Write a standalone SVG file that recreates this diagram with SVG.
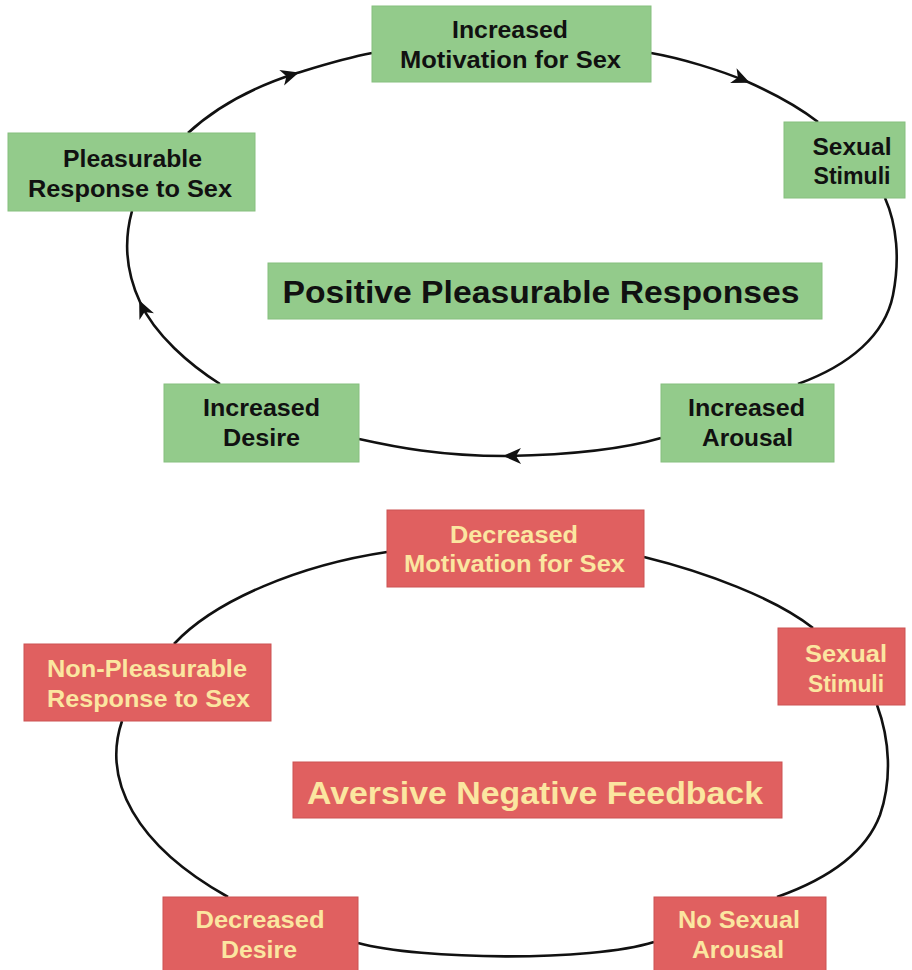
<svg xmlns="http://www.w3.org/2000/svg" width="912" height="970" viewBox="0 0 912 970">
<style>
.g{fill:#93cb8b;stroke:#86bf7f;stroke-width:1}
.r{fill:#e06060;stroke:#cc5252;stroke-width:1}
.tg{font-family:"Liberation Sans",Arial,sans-serif;font-weight:bold;font-size:23px;fill:#111;text-anchor:middle}
.tr{font-family:"Liberation Sans",Arial,sans-serif;font-weight:bold;font-size:24px;fill:#fbe6a0;text-anchor:middle}
.big{font-size:31px}
.c{fill:none;stroke:#111;stroke-width:2.6}
.a{marker-mid:url(#arr)}
</style>
<defs>
<marker id="arr" viewBox="-19 -10 22 20" refX="0" refY="0" markerWidth="22" markerHeight="20" markerUnits="userSpaceOnUse" orient="auto">
<path d="M2,0 L-16,-8 L-11,0 L-16,8 Z" fill="#111"/>
</marker>
</defs>
<rect width="912" height="970" fill="#fff"/>
<g id="connectors">
<path class="c a" d="M188,133 C215,108 250,88 297,73 C320,66 345,58 372,53"/>
<path class="c a" d="M651,53 C680,58 720,70 748,82 C775,94 800,108 818,122"/>
<path class="c" d="M885,198 C897,225 900,260 893,295 C885,335 850,365 798,384"/>
<path class="c a" d="M661,438 C620,450 570,455 505,456 C440,456 395,447 359,439"/>
<path class="c a" d="M220,384 C190,365 155,335 140,302 C126,272 124,240 132,211"/>
<path class="c" d="M174,644 C215,600 300,565 387,552"/>
<path class="c" d="M644,557 C705,572 775,598 813,628"/>
<path class="c" d="M877,705 C890,740 892,780 880,815 C865,855 825,880 777,897"/>
<path class="c" d="M654,942 C590,962 420,960 358,943"/>
<path class="c" d="M228,897 C135,845 102,780 122,721"/>
</g>
<g id="inc-motivation">
<rect class="g" x="372" y="6" width="279" height="76"/>
<text class="tg" x="510" y="38" textLength="116" lengthAdjust="spacingAndGlyphs">Increased</text>
<text class="tg" x="510.5" y="68" textLength="221" lengthAdjust="spacingAndGlyphs">Motivation for Sex</text>
</g>
<g id="pleasurable">
<rect class="g" x="8" y="133" width="247" height="78"/>
<text class="tg" x="132.5" y="167" textLength="139" lengthAdjust="spacingAndGlyphs">Pleasurable</text>
<text class="tg" x="130" y="197" textLength="204" lengthAdjust="spacingAndGlyphs">Response to Sex</text>
</g>
<g id="stimuli-pos">
<rect class="g" x="784" y="122" width="121" height="76"/>
<text class="tg" x="852" y="155" textLength="79" lengthAdjust="spacingAndGlyphs">Sexual</text>
<text class="tg" x="852" y="184" textLength="77" lengthAdjust="spacingAndGlyphs">Stimuli</text>
</g>
<g id="positive">
<rect class="g" x="268" y="263" width="554" height="56"/>
<text class="tg big" x="541" y="303" textLength="517" lengthAdjust="spacingAndGlyphs">Positive Pleasurable Responses</text>
</g>
<g id="inc-arousal">
<rect class="g" x="661" y="384" width="173" height="78"/>
<text class="tg" x="746.5" y="416" textLength="117" lengthAdjust="spacingAndGlyphs">Increased</text>
<text class="tg" x="747.5" y="446" textLength="91" lengthAdjust="spacingAndGlyphs">Arousal</text>
</g>
<g id="inc-desire">
<rect class="g" x="164" y="384" width="195" height="78"/>
<text class="tg" x="261.5" y="416" textLength="117" lengthAdjust="spacingAndGlyphs">Increased</text>
<text class="tg" x="261.5" y="446" textLength="77" lengthAdjust="spacingAndGlyphs">Desire</text>
</g>
<g id="dec-motivation">
<rect class="r" x="387" y="510" width="257" height="77"/>
<text class="tr" x="514" y="543" textLength="128" lengthAdjust="spacingAndGlyphs">Decreased</text>
<text class="tr" x="514.5" y="572" textLength="221" lengthAdjust="spacingAndGlyphs">Motivation for Sex</text>
</g>
<g id="non-pleasurable">
<rect class="r" x="24" y="644" width="247" height="77"/>
<text class="tr" x="147" y="677" textLength="200" lengthAdjust="spacingAndGlyphs">Non-Pleasurable</text>
<text class="tr" x="148.5" y="707" textLength="203" lengthAdjust="spacingAndGlyphs">Response to Sex</text>
</g>
<g id="stimuli-neg">
<rect class="r" x="778" y="628" width="127" height="77"/>
<text class="tr" x="846" y="662" textLength="82" lengthAdjust="spacingAndGlyphs">Sexual</text>
<text class="tr" x="846" y="692" textLength="76" lengthAdjust="spacingAndGlyphs">Stimuli</text>
</g>
<g id="aversive">
<rect class="r" x="293" y="762" width="489" height="56"/>
<text class="tr big" x="535" y="804" textLength="456" lengthAdjust="spacingAndGlyphs">Aversive Negative Feedback</text>
</g>
<g id="no-arousal">
<rect class="r" x="654" y="897" width="172" height="80"/>
<text class="tr" x="739" y="928" textLength="122" lengthAdjust="spacingAndGlyphs">No Sexual</text>
<text class="tr" x="738" y="958" textLength="92" lengthAdjust="spacingAndGlyphs">Arousal</text>
</g>
<g id="dec-desire">
<rect class="r" x="163" y="897" width="195" height="80"/>
<text class="tr" x="260" y="928" textLength="129" lengthAdjust="spacingAndGlyphs">Decreased</text>
<text class="tr" x="259" y="958" textLength="76" lengthAdjust="spacingAndGlyphs">Desire</text>
</g>
</svg>
